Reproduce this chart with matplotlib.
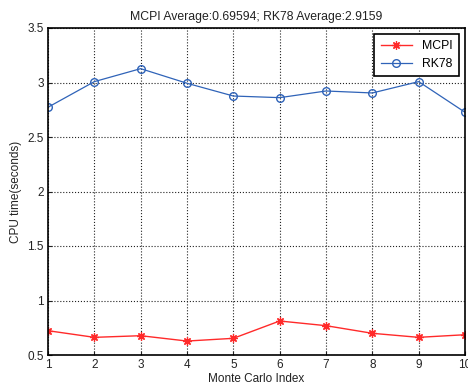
import matplotlib
matplotlib.use('Agg')
import matplotlib.pyplot as plt

runs = [1, 2, 3, 4, 5, 6, 7, 8, 9, 10]
mcpi = [0.723, 0.662, 0.677, 0.628, 0.653, 0.812, 0.769, 0.699, 0.662, 0.686]
rk78 = [2.773, 3.008, 3.127, 2.993, 2.876, 2.861, 2.922, 2.904, 3.008, 2.727]
yticks = [0.5, 1, 1.5, 2, 2.5, 3, 3.5]
ytick_labels = ['0.5', '1', '1.5', '2', '2.5', '3', '3.5']

plt.rcParams['font.family'] = ['Liberation Sans', 'DejaVu Sans']
plt.rcParams['font.size'] = 8.5

fig = plt.figure(figsize=(4.68, 3.91), dpi=100)
ax = fig.add_axes([48 / 468, 1 - 355 / 391, 417 / 468, 327 / 391])

# matlab style asterisk: + and x overlaid
ax.plot(runs, mcpi, color='#ff2a2a', marker=(8, 2, 0), markersize=6, markeredgewidth=0.9,
        lw=1, label='MCPI')
ax.plot(runs, rk78, color='#2f63b8', marker='o', markersize=5.5, markerfacecolor='none',
        lw=0.9, label='RK78')

ax.set_xlim(1, 10)
ax.set_ylim(0.5, 3.5)
ax.set_xticks(runs)
ax.set_yticks(yticks)
ax.set_yticklabels(ytick_labels)
ax.grid(True, color='#222222', linestyle=':', linewidth=0.8)
ax.tick_params(direction='in', length=3, colors='#222222', pad=3)
for s in ax.spines.values():
    s.set_linewidth(1.2)

ax.set_title('MCPI Average:0.69594; RK78 Average:2.9159', fontsize=8.8, pad=6, color='#222222')
ax.set_xlabel('Monte Carlo Index', labelpad=1, color='#222222')
ax.set_ylabel('CPU time(seconds)', labelpad=4, color='#222222')

leg = ax.legend(loc='upper right', fancybox=False, framealpha=1, edgecolor='black',
                borderaxespad=0.5, borderpad=0.5, handlelength=2.6, fontsize=8.8)
leg.get_frame().set_linewidth(1.2)

fig.savefig('out.png', dpi=100)
